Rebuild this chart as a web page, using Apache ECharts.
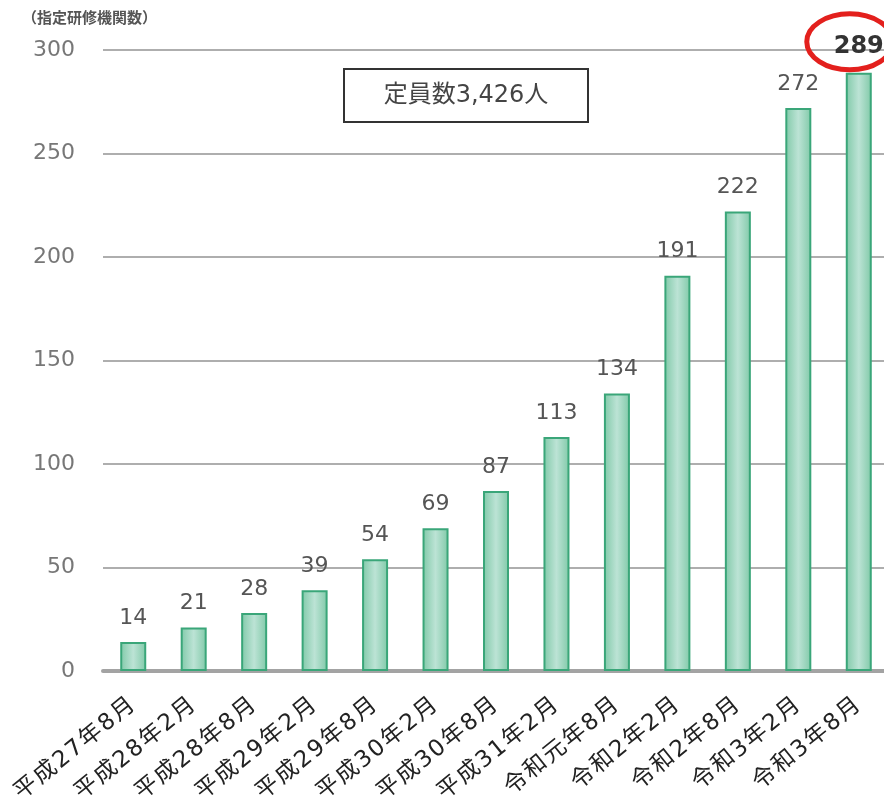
<!DOCTYPE html>
<html>
<head>
<meta charset="utf-8">
<script src="https://cdn.jsdelivr.net/npm/echarts@6/dist/echarts.min.js"></script>
<style>
  html, body { margin: 0; padding: 0; background: #fff; }
  #main { width: 884px; height: 804px; }
</style>
</head>
<body>
<div id="main"></div>
<script>
var categories = ['平成27年8月', '平成28年2月', '平成28年8月', '平成29年2月', '平成29年8月', '平成30年2月',
    '平成30年8月', '平成31年2月', '令和元年8月', '令和2年2月', '令和2年8月', '令和3年2月', '令和3年8月'];
var counts = [14, 21, 28, 39, 54, 69, 87, 113, 134, 191, 222, 272, 289];
var yTicks = [0, 50, 100, 150, 200, 250, 300];
var unitLabel = '（指定研修機関数）';
var noteText = '定員数3,426人';

var FONT = '"DejaVu Sans", "Noto Sans CJK JP", sans-serif';
var JP_FONT = '"Noto Sans CJK JP", sans-serif';
var lastIdx = counts.length - 1;

var barFill = new echarts.graphic.LinearGradient(0, 0, 1, 0, [
    { offset: 0, color: '#80c9a8' },
    { offset: 0.5, color: '#bce3d5' },
    { offset: 1, color: '#80c9a8' }
]);

var myChart = echarts.init(document.getElementById('main'));

var option = {
    backgroundColor: '#fff',
    animation: false,
    grid: { left: 103, right: -5, top: 50, bottom: 133, outerBoundsMode: 'none' },
    xAxis: {
        type: 'category',
        data: categories,
        axisLine: { lineStyle: { color: '#a3a3a3', width: 4 } },
        axisTick: { show: false },
        axisLabel: {
            rotate: 39,
            interval: 0,
            margin: 31,
            // the original labels are a bit loosely spaced, so each character gets a little padding
            formatter: function (v) {
                return v.split('').map(function (c) { return '{c|' + c + '}'; }).join('');
            },
            rich: {
                c: {
                    color: '#222',
                    fontSize: 23,
                    fontFamily: FONT,
                    padding: [0, 1]
                }
            }
        }
    },
    yAxis: {
        type: 'value',
        min: yTicks[0],
        max: yTicks[yTicks.length - 1],
        interval: 50,
        axisLine: { show: false },
        axisTick: { show: false },
        axisLabel: {
            margin: 28,
            color: '#777',
            fontSize: 22,
            fontFamily: FONT
        },
        splitLine: { lineStyle: { color: '#aeaeae', width: 2 } }
    },
    series: [{
        type: 'bar',
        data: counts.map(function (v, i) {
            if (i === lastIdx) {
                return {
                    value: v,
                    label: { fontWeight: 'bold', color: '#333', fontSize: 24, distance: 14 }
                };
            }
            return v;
        }),
        barWidth: 26,
        itemStyle: {
            color: barFill,
            borderColor: '#3aa679',
            borderWidth: 2
        },
        label: {
            show: true,
            position: 'top',
            distance: 13,
            color: '#555',
            fontSize: 22,
            fontFamily: FONT
        }
    }],
    graphic: [
        {
            type: 'text',
            left: 22,
            top: 10,
            style: {
                text: unitLabel,
                fill: '#555',
                font: 'bold 15px ' + JP_FONT
            }
        },
        {
            type: 'group',
            left: 343,
            top: 68,
            children: [
                {
                    type: 'rect',
                    shape: { x: 0, y: 0, width: 244, height: 53 },
                    style: { fill: '#fff', stroke: '#333', lineWidth: 2 }
                },
                {
                    type: 'text',
                    x: 122,
                    y: 26.5,
                    style: {
                        text: noteText,
                        fill: '#444',
                        font: '24px ' + FONT,
                        align: 'center',
                        verticalAlign: 'middle'
                    }
                }
            ]
        }
    ]
};

myChart.setOption(option);

// red ring around the latest value
var p = myChart.convertToPixel({ xAxisIndex: 0, yAxisIndex: 0 }, [lastIdx, counts[lastIdx]]);
myChart.setOption({
    graphic: [{
        id: 'ring',
        type: 'ellipse',
        shape: { cx: p[0] - 9, cy: p[1] - 31, rx: 43, ry: 28 },
        style: { fill: 'none', stroke: '#e3201d', lineWidth: 5 },
        z: 100
    }]
});
</script>
</body>
</html>
